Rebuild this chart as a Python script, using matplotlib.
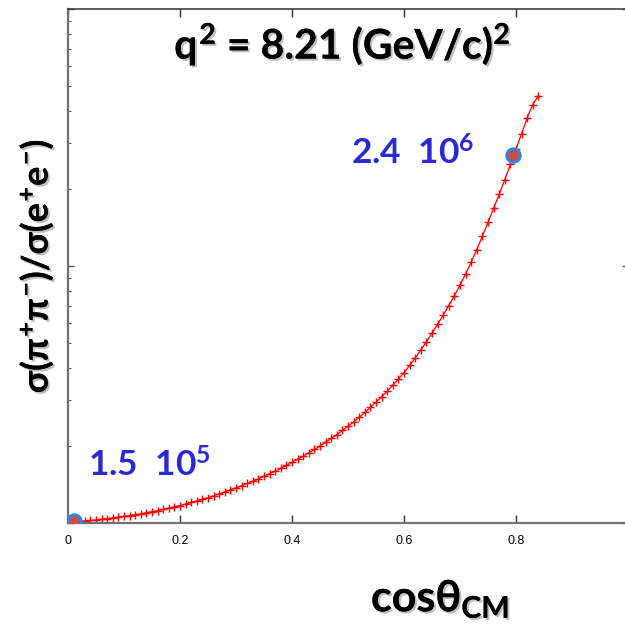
import numpy as np
import matplotlib.pyplot as plt
import matplotlib.patheffects as pe

plt.rcParams['font.family'] = ['Lato', 'DejaVu Sans']
plt.rcParams['mathtext.fontset'] = 'custom'
plt.rcParams['mathtext.rm'] = 'Lato:bold'
plt.rcParams['mathtext.it'] = 'Lato:bold'
plt.rcParams['mathtext.bf'] = 'Lato:bold'
plt.rcParams['mathtext.fallback'] = 'stixsans'

#cos(theta_CM) grid, step 0.01
cos_cm = np.round(np.arange(85)*0.01, 2)
#sigma(pi+pi-)/sigma(e+e-), in units of 1e5
ratio_1e5 = [1.009, 1.012, 1.014, 1.019, 1.023, 1.028,
             1.033, 1.040, 1.047, 1.054, 1.062,
             1.069, 1.079, 1.086, 1.096, 1.107,
             1.117, 1.130, 1.143, 1.156, 1.169,
             1.186, 1.202, 1.219, 1.236, 1.256,
             1.276, 1.297, 1.321, 1.346, 1.371,
             1.396, 1.426, 1.455, 1.486, 1.521,
             1.556, 1.592, 1.633, 1.675, 1.722,
             1.770, 1.820, 1.875, 1.932, 1.995,
             2.061, 2.133, 2.208, 2.291, 2.377,
             2.472, 2.576, 2.692, 2.818, 2.951,
             3.097, 3.258, 3.436, 3.631, 3.846,
             4.102, 4.385, 4.710, 5.070, 5.470,
             5.929, 6.442, 7.015, 7.674, 8.414,
             9.311, 10.35, 11.59, 13.06, 14.79,
             16.75, 19.01, 21.68, 24.83, 28.51,
             32.73, 37.76, 42.5, 46.0]
ratio = np.array(ratio_1e5)*1e5

#highlighted points
hl_cos = [0.01, 0.795]
hl_ratio = [1.02e5, 2.7e6]
hl_text = ['1.5  10$^{5}$', '2.4  10$^{6}$']

xticks = [0, 0.2, 0.4, 0.6, 0.8]
xticklabels = ['0', '0.2', '0.4', '0.6', '0.8']

fig = plt.figure(figsize=(6.25, 6.24), dpi=100)
ax = fig.add_axes([68/625, 101/624, 560/625, 514/624])

ax.plot(cos_cm, ratio, '-+', color='red', lw=0.9, ms=6, mew=1.0)
ax.plot(hl_cos, hl_ratio, 'o', ms=10, mfc='#c0504d', mec='#1e88ff', mew=1.8, zorder=5)

ax.set_yscale('log')
ax.set_xlim(0, 1)
ax.set_ylim(1e5, 1e7)
ax.set_xticks(xticks)
ax.set_xticklabels(xticklabels, family=['Liberation Sans Narrow', 'Liberation Sans'], fontsize=9)
ax.set_yticklabels([], minor=True)
ax.set_yticklabels([])
ax.tick_params(axis='x', direction='in', length=6, width=1, color='#333333',
               top=True, pad=9)
ax.tick_params(axis='y', which='major', direction='in', length=4, width=1,
               color='#555555', right=True)
ax.tick_params(axis='y', which='minor', direction='in', length=2.5, width=0.8,
               color='#555555', right=True)
for s in ['left', 'bottom']:
    ax.spines[s].set_color('#707070')
    ax.spines[s].set_linewidth(1.6)
ax.spines['top'].set_color('#333333')
ax.spines['top'].set_linewidth(1.1)

shadow = [pe.withSimplePatchShadow(offset=(1.5, -1.5), alpha=0.25), pe.Normal()]

fig.text(0.548, 0.928, r'$q^2$ = 8.21 (GeV/c)$^2$', fontsize=29.5, fontweight='bold',
         ha='center', va='center', path_effects=shadow)
fig.text(0.704, 0.04, r'$cos\theta_{CM}$', fontsize=31,
         ha='center', va='center', path_effects=shadow)
fig.text(0.058, 0.574, r'$\sigma(\pi^{+}\pi^{-})/\sigma(e^{+}e^{-})$', fontsize=26,
         rotation=90, ha='center', va='center', path_effects=shadow)

#value labels
ax.annotate(hl_text[0], (hl_cos[0], hl_ratio[0]), xytext=(76, 56), textcoords='offset pixels',
            fontsize=25.5, fontweight='bold', color='#2a2ad4', ha='center', va='center')
ax.annotate(hl_text[1], (hl_cos[1], hl_ratio[1]), xytext=(-100, 2), textcoords='offset pixels',
            fontsize=25.5, fontweight='bold', color='#2a2ad4', ha='center', va='center')

plt.savefig('out.png', dpi=100)
